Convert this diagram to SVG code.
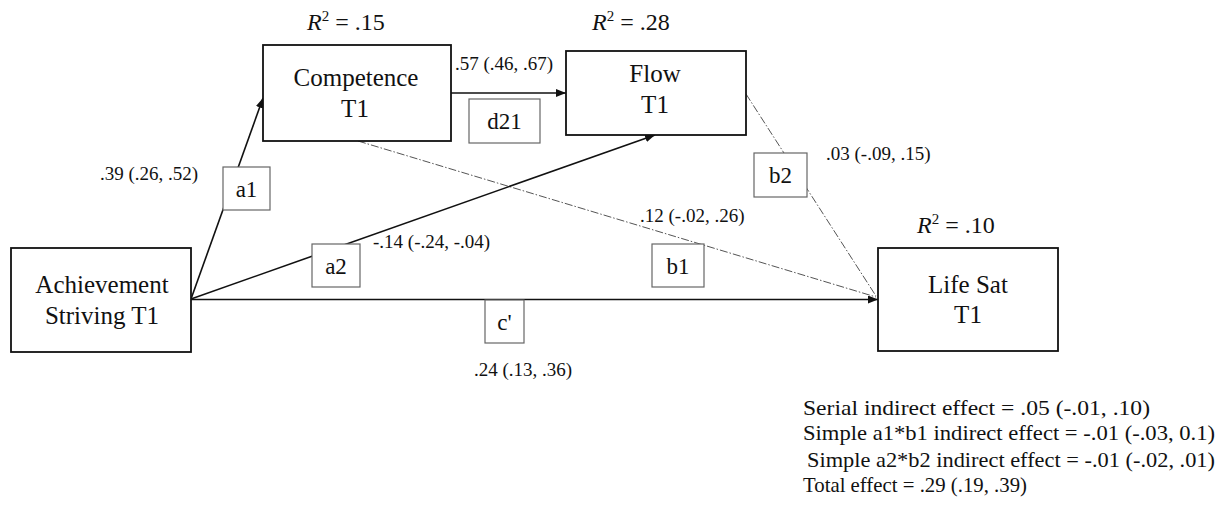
<svg xmlns="http://www.w3.org/2000/svg" width="1220" height="510" viewBox="0 0 1220 510" font-family="'Liberation Serif', 'DejaVu Serif', serif">
  <style>
    text { font-family: 'Liberation Serif', 'DejaVu Serif', serif; fill: #111; }
    .node { fill: #fff; stroke: #111; stroke-width: 1.8; }
    .lbl { fill: #fff; stroke: #666; stroke-width: 1.2; }
    .solid { fill: none; stroke: #111; stroke-width: 1.6; }
    .dash { fill: none; stroke: #555; stroke-width: 1; stroke-dasharray: 8 2 1.5 2; }
    .nt { font-size: 25px; text-anchor: middle; }
    .lt { font-size: 23px; text-anchor: middle; }
    .et { font-size: 19px; }
    .r2 { font-size: 24px; }
    .ft { font-size: 21px; }
  </style>
  <defs>
    <marker id="arr" markerUnits="userSpaceOnUse" markerWidth="12" markerHeight="10" refX="10" refY="4" orient="auto">
      <path d="M0,0 L10,4 L0,8 Z" fill="#111"/>
    </marker>
  </defs>
  <rect width="1220" height="510" fill="#fff"/>

  <g id="connectors">
    <line class="dash" x1="358" y1="141" x2="876" y2="297"/>
    <line class="dash" x1="746" y1="94" x2="876" y2="296"/>
    <line class="solid" x1="191" y1="299" x2="263" y2="98" marker-end="url(#arr)"/>
    <line class="solid" x1="451" y1="93" x2="566" y2="93" marker-end="url(#arr)"/>
    <line class="solid" x1="191" y1="299" x2="655" y2="135" marker-end="url(#arr)"/>
    <line class="solid" x1="191" y1="299.5" x2="878" y2="299.5" marker-end="url(#arr)"/>

    <g id="label-a1">
      <rect class="lbl" x="223" y="167" width="47" height="43"/>
      <text class="lt" x="246.5" y="197">a1</text>
    </g>
    <g id="label-d21">
      <rect class="lbl" x="469" y="99" width="71" height="44"/>
      <text class="lt" x="504.5" y="129">d21</text>
    </g>
    <g id="label-a2">
      <rect class="lbl" x="312" y="244" width="48" height="43"/>
      <text class="lt" x="336" y="274">a2</text>
    </g>
    <g id="label-b1">
      <rect class="lbl" x="652" y="244" width="52" height="43"/>
      <text class="lt" x="678" y="274">b1</text>
    </g>
    <g id="label-b2">
      <rect class="lbl" x="754" y="153" width="53" height="44"/>
      <text class="lt" x="780.5" y="183">b2</text>
    </g>
    <g id="label-c">
      <rect class="lbl" x="485" y="300" width="39" height="43"/>
      <text class="lt" x="504.5" y="330">c'</text>
    </g>

    <text class="et" x="100" y="180">.39 (.26, .52)</text>
    <text class="et" x="455" y="70">.57 (.46, .67)</text>
    <text class="et" x="373" y="248">-.14 (-.24, -.04)</text>
    <text class="et" x="640" y="222">.12 (-.02, .26)</text>
    <text class="et" x="826" y="160">.03 (-.09, .15)</text>
    <text class="et" x="474" y="376">.24 (.13, .36)</text>
  </g>

  <g id="node-achievement">
    <rect class="node" x="11" y="248" width="180" height="104"/>
    <text class="nt" x="102" y="293">Achievement</text>
    <text class="nt" x="102" y="324">Striving T1</text>
  </g>

  <g id="node-competence">
    <text class="r2" x="307" y="30"><tspan font-style="italic">R</tspan><tspan font-size="15" dy="-9">2</tspan><tspan dy="9"> = .15</tspan></text>
    <rect class="node" x="263" y="45" width="188" height="96"/>
    <text class="nt" x="356" y="86">Competence</text>
    <text class="nt" x="355" y="117">T1</text>
  </g>

  <g id="node-flow">
    <text class="r2" x="592" y="30"><tspan font-style="italic">R</tspan><tspan font-size="15" dy="-9">2</tspan><tspan dy="9"> = .28</tspan></text>
    <rect class="node" x="566" y="51" width="180" height="84"/>
    <text class="nt" x="655" y="82">Flow</text>
    <text class="nt" x="655" y="113">T1</text>
  </g>

  <g id="node-lifesat">
    <text class="r2" x="917" y="233"><tspan font-style="italic">R</tspan><tspan font-size="15" dy="-9">2</tspan><tspan dy="9"> = .10</tspan></text>
    <rect class="node" x="878" y="248" width="180" height="103"/>
    <text class="nt" x="968" y="293">Life Sat</text>
    <text class="nt" x="968" y="323">T1</text>
  </g>

  <g id="notes">
    <text class="ft" x="803" y="415" textLength="347" lengthAdjust="spacingAndGlyphs">Serial indirect effect = .05 (-.01, .10)</text>
    <text class="ft" x="803" y="440" textLength="412" lengthAdjust="spacingAndGlyphs">Simple a1*b1 indirect effect = -.01 (-.03, 0.1)</text>
    <text class="ft" x="807" y="467" textLength="408" lengthAdjust="spacingAndGlyphs">Simple a2*b2 indirect effect = -.01 (-.02, .01)</text>
    <text class="ft" x="803" y="492" textLength="224" lengthAdjust="spacingAndGlyphs">Total effect = .29 (.19, .39)</text>
  </g>
</svg>
